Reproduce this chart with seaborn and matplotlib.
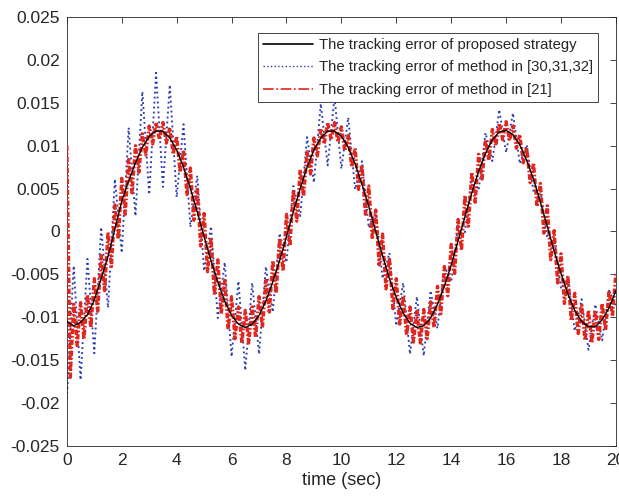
import numpy as np
import pandas as pd
import matplotlib
matplotlib.use("Agg")
import matplotlib.pyplot as plt
import seaborn as sns
from matplotlib.lines import Line2D

# ---------------- data ----------------
t_black = np.linspace(0, 20, 81)          # 0.25 s sampling
t_blue = np.linspace(0, 20, 81)           # 0.25 s sampling
t_red = np.linspace(0, 20, 161)           # 0.125 s sampling

err_proposed = [
    -0.0105, -0.0110, -0.0106, -0.0097, -0.0080, -0.0055, -0.0029, 0.0003, 0.0035, 0.0059,
    0.0080, 0.0098, 0.0111, 0.0117, 0.0117, 0.0109, 0.0095, 0.0075, 0.0050, 0.0023,
    -0.0006, -0.0034, -0.0059, -0.0081, -0.0098, -0.0108, -0.0112, -0.0108, -0.0098, -0.0081,
    -0.0059, -0.0034, -0.0006, 0.0023, 0.0050, 0.0075, 0.0095, 0.0109, 0.0117, 0.0117,
    0.0111, 0.0098, 0.0079, 0.0055, 0.0029, 0.0000, -0.0028, -0.0055, -0.0077, -0.0095,
    -0.0107, -0.0112, -0.0110, -0.0101, -0.0085, -0.0064, -0.0039, -0.0011, 0.0017, 0.0045,
    0.0070, 0.0091, 0.0107, 0.0116, 0.0118, 0.0113, 0.0101, 0.0083, 0.0061, 0.0034,
    0.0006, -0.0023, -0.0049, -0.0073, -0.0092, -0.0105, -0.0111, -0.0111, -0.0103, -0.0089,
    -0.0069,
]

err_method_303132 = [
    -0.0195, -0.0040, -0.0173, -0.0032, -0.0142, 0.0005, -0.0089, 0.0061, -0.0025, 0.0121,
    0.0018, 0.0163, 0.0043, 0.0185, 0.0052, 0.0171, 0.0040, 0.0125, 0.0005, 0.0065,
    -0.0046, 0.0006, -0.0101, -0.0036, -0.0146, -0.0058, -0.0162, -0.0060, -0.0143, -0.0041,
    -0.0094, -0.0002, -0.0036, 0.0053, 0.0018, 0.0110, 0.0057, 0.0149, 0.0077, 0.0157,
    0.0073, 0.0133, 0.0049, 0.0082, 0.0004, 0.0025, -0.0055, -0.0025, -0.0110, -0.0060,
    -0.0143, -0.0076, -0.0145, -0.0069, -0.0113, -0.0040, -0.0059, 0.0007, -0.0001, 0.0065,
    0.0048, 0.0115, 0.0082, 0.0142, 0.0092, 0.0138, 0.0079, 0.0101, 0.0046, 0.0048,
    -0.0008, -0.0007, -0.0067, -0.0052, -0.0116, -0.0079, -0.0138, -0.0085, -0.0127, -0.0069,
    -0.0086,
]

err_method_21 = [
    0.0100, -0.0170, -0.0085, -0.0133, -0.0083, -0.0125, -0.0074, -0.0112, -0.0055, -0.0093,
    -0.0028, -0.0069, -0.0001, -0.0041, 0.0031, -0.0009, 0.0062, 0.0020, 0.0084, 0.0045,
    0.0100, 0.0069, 0.0114, 0.0089, 0.0123, 0.0102, 0.0127, 0.0107, 0.0127, 0.0103,
    0.0121, 0.0090, 0.0111, 0.0069, 0.0095, 0.0043, 0.0074, 0.0013, 0.0049, -0.0017,
    0.0021, -0.0047, -0.0007, -0.0074, -0.0033, -0.0096, -0.0057, -0.0114, -0.0076, -0.0125,
    -0.0088, -0.0130, -0.0092, -0.0130, -0.0088, -0.0123, -0.0076, -0.0112, -0.0057, -0.0094,
    -0.0034, -0.0072, -0.0008, -0.0046, 0.0020, -0.0017, 0.0048, 0.0012, 0.0072, 0.0041,
    0.0093, 0.0067, 0.0109, 0.0088, 0.0120, 0.0102, 0.0127, 0.0107, 0.0127, 0.0104,
    0.0122, 0.0094, 0.0112, 0.0075, 0.0097, 0.0049, 0.0077, 0.0020, 0.0053, -0.0009,
    0.0025, -0.0039, -0.0003, -0.0067, -0.0031, -0.0090, -0.0055, -0.0108, -0.0075, -0.0121,
    -0.0088, -0.0129, -0.0093, -0.0130, -0.0091, -0.0125, -0.0082, -0.0112, -0.0064, -0.0096,
    -0.0041, -0.0075, -0.0015, -0.0049, 0.0014, -0.0022, 0.0042, 0.0006, 0.0069, 0.0034,
    0.0090, 0.0061, 0.0107, 0.0083, 0.0119, 0.0100, 0.0126, 0.0107, 0.0128, 0.0106,
    0.0123, 0.0097, 0.0113, 0.0080, 0.0098, 0.0057, 0.0080, 0.0029, 0.0056, -0.0002,
    0.0030, -0.0033, 0.0001, -0.0060, -0.0026, -0.0084, -0.0052, -0.0104, -0.0072, -0.0119,
    -0.0086, -0.0127, -0.0092, -0.0130, -0.0092, -0.0126, -0.0084, -0.0115, -0.0069, -0.0099,
    -0.0048,
]

labels = [
    "The tracking error of proposed strategy",
    "The tracking error of method in [30,31,32]",
    "The tracking error of method in [21]",
]

x_ticks = [0, 2, 4, 6, 8, 10, 12, 14, 16, 18, 20]
y_ticks = [-0.025, -0.02, -0.015, -0.01, -0.005, 0, 0.005, 0.01, 0.015, 0.02, 0.025]
y_tick_labels = ["-0.025", "-0.02", "-0.015", "-0.01", "-0.005", "0",
                 "0.005", "0.01", "0.015", "0.02", "0.025"]

# ---------------- styling ----------------
sns.set_theme(style="white")
plt.rcParams["font.family"] = ["Liberation Sans", "DejaVu Sans"]
plt.rcParams["axes.unicode_minus"] = False

fig = plt.figure(figsize=(6.19, 5.01), dpi=100)
ax = fig.add_axes([0.108, 0.110, 0.887, 0.856])

blue = "#2a3cb0"
red = "#e3261c"
red_dash = (0, (1.6, 0.6, 0.5, 0.6))

df_blue = pd.DataFrame({"t": t_blue, "e": err_method_303132})
df_red = pd.DataFrame({"t": t_red, "e": err_method_21})
df_black = pd.DataFrame({"t": t_black, "e": err_proposed})

sns.lineplot(data=df_blue, x="t", y="e", ax=ax, color=blue, linestyle=":",
             linewidth=1.35, estimator=None, zorder=2)
sns.lineplot(data=df_red, x="t", y="e", ax=ax, color=red, linestyle=red_dash,
             linewidth=2.4, estimator=None, zorder=3)
sns.lineplot(data=df_black, x="t", y="e", ax=ax, color="black", linestyle="-",
             linewidth=1.0, estimator=None, zorder=4)

ax.set_xlim(0, 20)
ax.set_ylim(-0.025, 0.025)
ax.set_xticks(x_ticks)
ax.set_xticklabels([str(v) for v in x_ticks])
ax.set_yticks(y_ticks)
ax.set_yticklabels(y_tick_labels)
ax.tick_params(direction="in", top=True, right=True, length=4, width=0.6,
               labelsize=12.5, colors="#262626", pad=5)
for s in ax.spines.values():
    s.set_color("#262626")
    s.set_linewidth(0.6)

ax.set_xlabel("time (sec)", fontsize=13, color="#262626", labelpad=3)
ax.set_ylabel("")

handles = [
    Line2D([], [], color="black", linestyle="-", linewidth=1.2),
    Line2D([], [], color=blue, linestyle=":", linewidth=1.0),
    Line2D([], [], color=red, linestyle="-.", linewidth=1.2),
]
leg = ax.legend(handles, labels, loc="upper right", bbox_to_anchor=(0.967, 0.963),
                borderaxespad=0, fontsize=10.7, handlelength=3.4, handletextpad=0.35,
                labelspacing=0.56, borderpad=0.35, fancybox=False, framealpha=1)
leg.get_frame().set_edgecolor("#262626")
leg.get_frame().set_linewidth(0.6)

fig.savefig("out.png", dpi=100)
